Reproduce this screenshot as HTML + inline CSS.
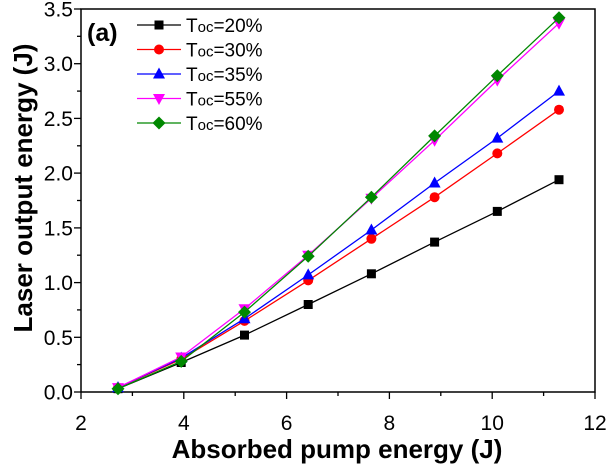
<!DOCTYPE html><html><head><style>body{margin:0;background:#fff}svg{display:block;font-family:"Liberation Sans",Arial,sans-serif}</style></head><body>
<svg width="606" height="467" viewBox="0 0 606 467" xmlns="http://www.w3.org/2000/svg">
<defs>
<marker id="ms" markerUnits="userSpaceOnUse" markerWidth="12" markerHeight="12" refX="6" refY="6" overflow="visible"><rect x="1.5" y="1.5" width="9" height="9" fill="#000"/></marker>
<marker id="mc" markerUnits="userSpaceOnUse" markerWidth="12" markerHeight="12" refX="6" refY="6" overflow="visible"><circle cx="6" cy="6" r="5" fill="#f00"/></marker>
<marker id="mt" markerUnits="userSpaceOnUse" markerWidth="12" markerHeight="12" refX="6" refY="6" overflow="visible"><polygon points="6,-0.5 0,10.5 12,10.5" fill="#00f"/></marker>
<marker id="mv" markerUnits="userSpaceOnUse" markerWidth="12" markerHeight="12" refX="6" refY="6" overflow="visible"><polygon points="6,12.5 0,1.5 12,1.5" fill="#f0f"/></marker>
<marker id="md" markerUnits="userSpaceOnUse" markerWidth="12" markerHeight="12" refX="6" refY="6" overflow="visible"><polygon points="6,-0.5 12.5,6 6,12.5 -0.5,6" fill="#080"/></marker>
</defs>
<rect x="81" y="9" width="514" height="383" fill="none" stroke="#000" stroke-width="1.5"/>
<g stroke="#000" stroke-width="1.3">
<line x1="81" y1="392" x2="81" y2="399"/><line x1="132.4" y1="392" x2="132.4" y2="396"/><line x1="183.8" y1="392" x2="183.8" y2="399"/><line x1="235.2" y1="392" x2="235.2" y2="396"/><line x1="286.6" y1="392" x2="286.6" y2="399"/><line x1="338" y1="392" x2="338" y2="396"/><line x1="389.4" y1="392" x2="389.4" y2="399"/><line x1="440.8" y1="392" x2="440.8" y2="396"/><line x1="492.2" y1="392" x2="492.2" y2="399"/><line x1="543.6" y1="392" x2="543.6" y2="396"/><line x1="595" y1="392" x2="595" y2="399"/>
<line x1="74" y1="392" x2="81" y2="392"/><line x1="77" y1="364.6" x2="81" y2="364.6"/><line x1="74" y1="337.3" x2="81" y2="337.3"/><line x1="77" y1="309.9" x2="81" y2="309.9"/><line x1="74" y1="282.6" x2="81" y2="282.6"/><line x1="77" y1="255.2" x2="81" y2="255.2"/><line x1="74" y1="227.9" x2="81" y2="227.9"/><line x1="77" y1="200.5" x2="81" y2="200.5"/><line x1="74" y1="173.1" x2="81" y2="173.1"/><line x1="77" y1="145.8" x2="81" y2="145.8"/><line x1="74" y1="118.4" x2="81" y2="118.4"/><line x1="77" y1="91.1" x2="81" y2="91.1"/><line x1="74" y1="63.7" x2="81" y2="63.7"/><line x1="77" y1="36.3" x2="81" y2="36.3"/><line x1="74" y1="9" x2="81" y2="9"/>
</g>
<g font-size="21" text-anchor="middle">
<text x="81" y="430">2</text><text x="183.8" y="430">4</text><text x="286.6" y="430">6</text><text x="389.4" y="430">8</text><text x="492.2" y="430">10</text><text x="595" y="430">12</text>
</g>
<g font-size="21" text-anchor="end">
<text x="73" y="399.5">0.0</text><text x="73" y="344.8">0.5</text><text x="73" y="290.1">1.0</text><text x="73" y="235.4">1.5</text><text x="73" y="180.6">2.0</text><text x="73" y="125.9">2.5</text><text x="73" y="71.2">3.0</text><text x="73" y="16.5">3.5</text>
</g>
<g fill="none" stroke-width="1.3">
<polyline stroke="#000" marker-start="url(#ms)" marker-mid="url(#ms)" marker-end="url(#ms)" points="118,388.7 181.2,362.5 244.5,335.1 308.2,304.5 371.4,273.8 434.6,242.1 497.3,211.4 559,179.7"/>
<polyline stroke="#f00" marker-start="url(#mc)" marker-mid="url(#mc)" marker-end="url(#mc)" points="118,387.6 181.2,359.2 244.5,320.9 308.2,280.4 371.4,238.8 434.6,197.2 497.3,153.4 559,109.7"/>
<polyline stroke="#00f" marker-start="url(#mt)" marker-mid="url(#mt)" marker-end="url(#mt)" points="118,387.6 181.2,358.1 244.5,318.7 308.2,274.9 371.4,230 434.6,183 497.3,138.1 559,91.1"/>
<polyline stroke="#f0f" marker-start="url(#mv)" marker-mid="url(#mv)" marker-end="url(#mv)" points="118,387.6 181.2,357 244.5,308.8 308.2,255.2 371.4,198.3 434.6,140.3 497.3,80.1 559,23.2"/>
<polyline stroke="#080" marker-start="url(#md)" marker-mid="url(#md)" marker-end="url(#md)" points="118,388.7 181.2,361.4 244.5,312.1 308.2,256.3 371.4,197.2 434.6,135.9 497.3,75.7 559,17.7"/>
<polyline stroke="#000" marker-mid="url(#ms)" points="137,25 159,25 181,25"/>
<polyline stroke="#f00" marker-mid="url(#mc)" points="137,49.5 159,49.5 181,49.5"/>
<polyline stroke="#00f" marker-mid="url(#mt)" points="137,74 159,74 181,74"/>
<polyline stroke="#f0f" marker-mid="url(#mv)" points="137,98.5 159,98.5 181,98.5"/>
<polyline stroke="#080" marker-mid="url(#md)" points="137,123 159,123 181,123"/>
</g>
<g font-size="19">
<text x="186" y="32">T<tspan font-size="15">oc</tspan>=20%</text>
<text x="186" y="56.5">T<tspan font-size="15">oc</tspan>=30%</text>
<text x="186" y="81">T<tspan font-size="15">oc</tspan>=35%</text>
<text x="186" y="105.5">T<tspan font-size="15">oc</tspan>=55%</text>
<text x="186" y="130">T<tspan font-size="15">oc</tspan>=60%</text>
</g>
<text x="87" y="41" font-size="25" font-weight="bold">(a)</text>
<text x="337" y="458" font-size="26" font-weight="bold" text-anchor="middle">Absorbed pump energy (J)</text>
<text transform="translate(32,188) rotate(-90)" font-size="26" font-weight="bold" text-anchor="middle">Laser output energy (J)</text>
</svg></body></html>
